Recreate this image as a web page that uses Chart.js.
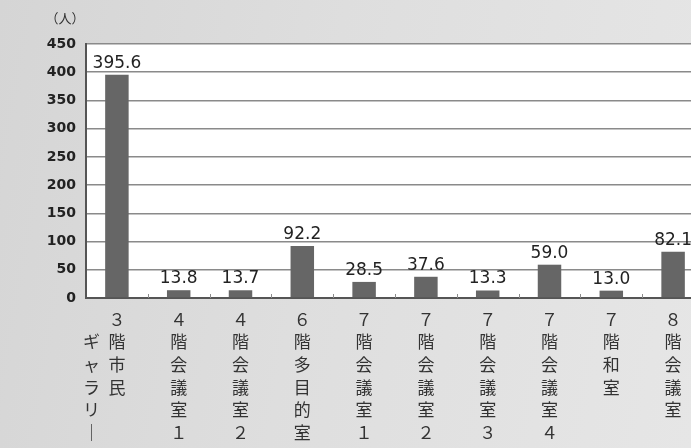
<!DOCTYPE html>
<html>
<head>
<meta charset="utf-8">
<script src="https://cdn.jsdelivr.net/npm/chart.js@4/dist/chart.umd.min.js"></script>
<style>
    html, body {
        margin: 0;
        padding: 0;
        width: 691px;
        height: 448px;
        overflow: hidden;
        background: linear-gradient( 100deg, #d5d5d5 0%, #dedede 45%, #e6e6e6 100% );
    }
    #wrap {
        position: relative;
        width: 704px;
        height: 448px;
    }
</style>
</head>
<body>
<div id="wrap"><canvas id="__chart_rooms"></canvas></div>
<script>

// rooms, one per bar; each label is split into lines so it reads top to bottom
const rooms = [
    [ '\u3000\u2002３\u3000\u2002', 'ギ\u2002階\u3000\u2002', 'ャ\u2002市\u3000\u2002', 'ラ\u2002民\u3000\u2002', 'リ\u2002\u3000\u3000\u2002', '｜\u2002\u3000\u3000\u2002' ],
    [ '４', '階', '会', '議', '室', '１' ],
    [ '４', '階', '会', '議', '室', '２' ],
    [ '６', '階', '多', '目', '的', '室' ],
    [ '７', '階', '会', '議', '室', '１' ],
    [ '７', '階', '会', '議', '室', '２' ],
    [ '７', '階', '会', '議', '室', '３' ],
    [ '７', '階', '会', '議', '室', '４' ],
    [ '７', '階', '和', '室' ],
    [ '８', '階', '会', '議', '室' ]
];

// average users per room
const users = [ 395.6, 13.8, 13.7, 92.2, 28.5, 37.6, 13.3, 59.0, 13.0, 82.1 ];

const yMax = 450;
const yStep = 50;
const yUnit = '（人）';

document.addEventListener( 'DOMContentLoaded', function () {

    let chart = document.getElementById( '__chart_rooms' );
    let ctx = chart.getContext( '2d' );

    /**
     * white plot area, unit caption, inner ticks and value labels
     */

    let decorate = {
        id: 'decorate',
        beforeDraw: ( c ) => {
            let a = c.chartArea;
            c.ctx.save();
            c.ctx.fillStyle = '#ffffff';
            c.ctx.fillRect( a.left, a.top, a.right - a.left, a.bottom - a.top );
            c.ctx.restore();
        },
        afterDraw: ( c ) => {
            let g = c.ctx;
            let a = c.chartArea;
            let x = c.scales.x;

            g.save();

            // category boundary ticks along the bottom axis
            g.strokeStyle = '#8c8c8c';
            g.lineWidth = 1;
            for( let i = 1; i < users.length; i++ ) {
                let px = Math.round( x.getPixelForValue( i - 0.5 ) ) + 0.5;
                g.beginPath();
                g.moveTo( px, a.bottom );
                g.lineTo( px, a.bottom - 4 );
                g.stroke();
            }

            // value labels above the bars
            g.fillStyle = '#222222';
            g.font = '17px "DejaVu Sans", sans-serif';
            g.textAlign = 'center';
            g.textBaseline = 'bottom';
            c.getDatasetMeta( 0 ).data.forEach( ( bar, i ) => {
                g.fillText( users[ i ].toFixed( 1 ), bar.x, bar.y - 3 );
            } );

            // unit caption
            g.fillStyle = '#333333';
            g.font = '13px "Noto Sans CJK JP", sans-serif';
            g.textBaseline = 'middle';
            g.fillText( yUnit, 65, 18 );

            g.restore();
        }
    };

    new Chart( ctx, {
        type: 'bar',
        data: {
            labels: rooms,
            datasets: [ {
                data: users,
                backgroundColor: '#666666',
                borderWidth: 0,
                barPercentage: 0.38,
                categoryPercentage: 1
            } ]
        },
        options: {
            responsive: true,
            maintainAspectRatio: false,
            animation: false,
            layout: {
                padding: {
                    top: 44,
                    left: 0,
                    right: 0,
                    bottom: 0
                }
            },
            plugins: {
                legend: {
                    display: false
                },
                tooltip: {
                    enabled: false
                }
            },
            scales: {
                x: {
                    offset: true,
                    afterFit: ( scale ) => {
                        scale.height = 150;
                    },
                    border: {
                        display: true,
                        color: '#555555',
                        width: 2
                    },
                    grid: {
                        display: false
                    },
                    ticks: {
                        padding: 2,
                        autoSkip: false,
                        maxRotation: 0,
                        color: '#333333',
                        font: {
                            family: '"Noto Sans CJK JP", sans-serif',
                            size: 17,
                            lineHeight: 1.33
                        }
                    }
                },
                y: {
                    min: 0,
                    max: yMax,
                    afterFit: ( scale ) => {
                        scale.width = 86;
                    },
                    border: {
                        display: true,
                        color: '#555555',
                        width: 2
                    },
                    grid: {
                        color: '#8a8a8a',
                        lineWidth: 1.5,
                        drawTicks: false
                    },
                    ticks: {
                        stepSize: yStep,
                        padding: 10,
                        color: '#222222',
                        font: {
                            family: '"DejaVu Sans", sans-serif',
                            size: 14,
                            weight: 'bold'
                        }
                    }
                }
            }
        },
        plugins: [ decorate ]
    } );

} );
</script>
</body>
</html>
